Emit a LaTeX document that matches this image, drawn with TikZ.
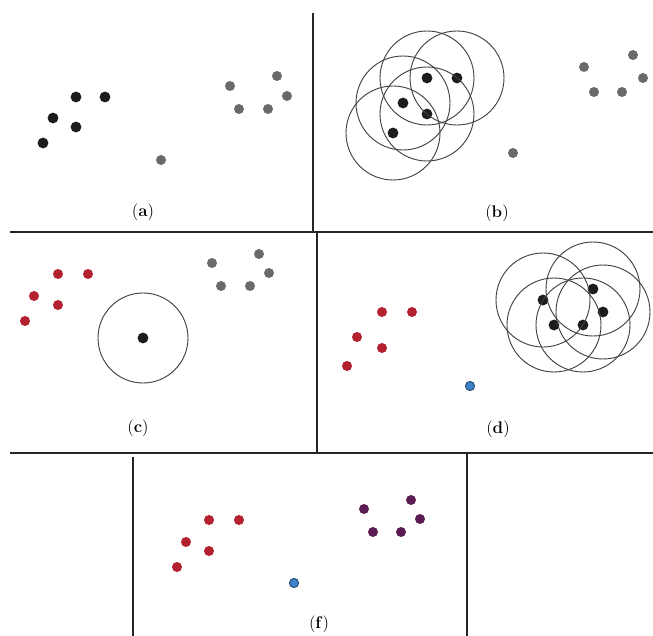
\documentclass[tikz,border=0pt]{standalone}
\usetikzlibrary{positioning}

\definecolor{dotblack}{HTML}{1C1C1C}
\definecolor{dotgray}{HTML}{6A6A6A}
\definecolor{dotred}{HTML}{B3212F}
\definecolor{dotblue}{HTML}{3C82C8}
\definecolor{dotpurple}{HTML}{5A1C52}

\begin{document}
\begin{tikzpicture}[
    x=0.025cm, y=-0.025cm,
    font=\large,
    dot/.style={circle, inner sep=0pt, minimum size=2.5mm},
    core/.style={dot, fill=dotblack, minimum size=2.7mm},
    noise/.style={dot, fill=dotgray},
    redpt/.style={dot, fill=dotred},
    bluept/.style={dot, fill=dotblue, draw=dotblue!50!black, line width=0.6pt, minimum size=2.3mm},
    purplept/.style={dot, fill=dotpurple},
    ring/.style={draw=black!75, line width=0.65pt},
    frame/.style={draw=black!85, line width=0.8pt},
    caption/.style={inner sep=1pt}
]
\useasboundingbox (0,0) rectangle (653,636);
\fill[white] (0,0) rectangle (653,636);

% panel frames
\draw[frame] (313,13) -- (313,232);
\draw[frame] (10,232) -- (653,232);
\draw[frame] (317,232) -- (317,453);
\draw[frame] (10,453) -- (653,453);
\draw[frame] (133,457) -- (133,636);
\draw[frame] (467,453) -- (467,636);

% (a)
\node[core] (a1) at (76,97) {};
\node[core] (a2) at (105,97) {};
\node[core] (a3) at (53,118) {};
\node[core] (a4) at (76,127) {};
\node[core] (a5) at (43,143) {};
\node[noise] (a6) at (230,86) {};
\node[noise] (a7) at (277,76) {};
\node[noise] (a8) at (287,96) {};
\node[noise] (a9) at (239,109) {};
\node[noise] (a10) at (268,109) {};
\node[noise] (a11) at (161,160) {};
\node[caption] (capa) at (143,212) {(\textbf{a})};

% (b)
\node[core] (b1) at (427,78) {};
\node[core] (b2) at (457,78) {};
\node[core] (b3) at (403,103) {};
\node[core] (b4) at (427,114) {};
\node[core] (b5) at (393,133) {};
\foreach \n in {b1,b2,b3,b4,b5}
  \draw[ring] (\n) circle (47);
\node[noise] (b6) at (584,67) {};
\node[noise] (b7) at (633,55) {};
\node[noise] (b8) at (643,78) {};
\node[noise] (b9) at (594,92) {};
\node[noise] (b10) at (622,92) {};
\node[noise] (b11) at (513,153) {};
\node[caption] (capb) at (497,213) {(\textbf{b})};

% (c)
\node[redpt] (c1) at (58,274) {};
\node[redpt] (c2) at (88,274) {};
\node[redpt] (c3) at (34,296) {};
\node[redpt] (c4) at (58,305) {};
\node[redpt] (c5) at (25,321) {};
\node[noise] (c6) at (212,263) {};
\node[noise] (c7) at (259,254) {};
\node[noise] (c8) at (269,273) {};
\node[noise] (c9) at (221,286) {};
\node[noise] (c10) at (250,286) {};
\node[core] (c11) at (143,338) {};
\draw[ring] (c11) circle (45);
\node[caption] (capc) at (138,428) {(\textbf{c})};

% (d)
\node[redpt] (d1) at (382,312) {};
\node[redpt] (d2) at (412,312) {};
\node[redpt] (d3) at (357,337) {};
\node[redpt] (d4) at (382,348) {};
\node[redpt] (d5) at (347,366) {};
\node[bluept] (d6) at (470,386) {};
\node[core] (d7) at (543,300) {};
\node[core] (d8) at (593,289) {};
\node[core] (d9) at (603,312) {};
\node[core] (d10) at (554,325) {};
\node[core] (d11) at (583,325) {};
\foreach \n in {d7,d8,d9,d10,d11}
  \draw[ring] (\n) circle (47);
\node[caption] (capd) at (498,429) {(\textbf{d})};

% (f)
\node[redpt] (f1) at (209,520) {};
\node[redpt] (f2) at (239,520) {};
\node[redpt] (f3) at (186,542) {};
\node[redpt] (f4) at (209,551) {};
\node[redpt] (f5) at (177,567) {};
\node[bluept] (f6) at (294,583) {};
\node[purplept] (f7) at (364,509) {};
\node[purplept] (f8) at (411,500) {};
\node[purplept] (f9) at (420,519) {};
\node[purplept] (f10) at (373,532) {};
\node[purplept] (f11) at (401,532) {};
\node[caption] (capf) at (319,624) {(\textbf{f})};
\end{tikzpicture}
\end{document}
